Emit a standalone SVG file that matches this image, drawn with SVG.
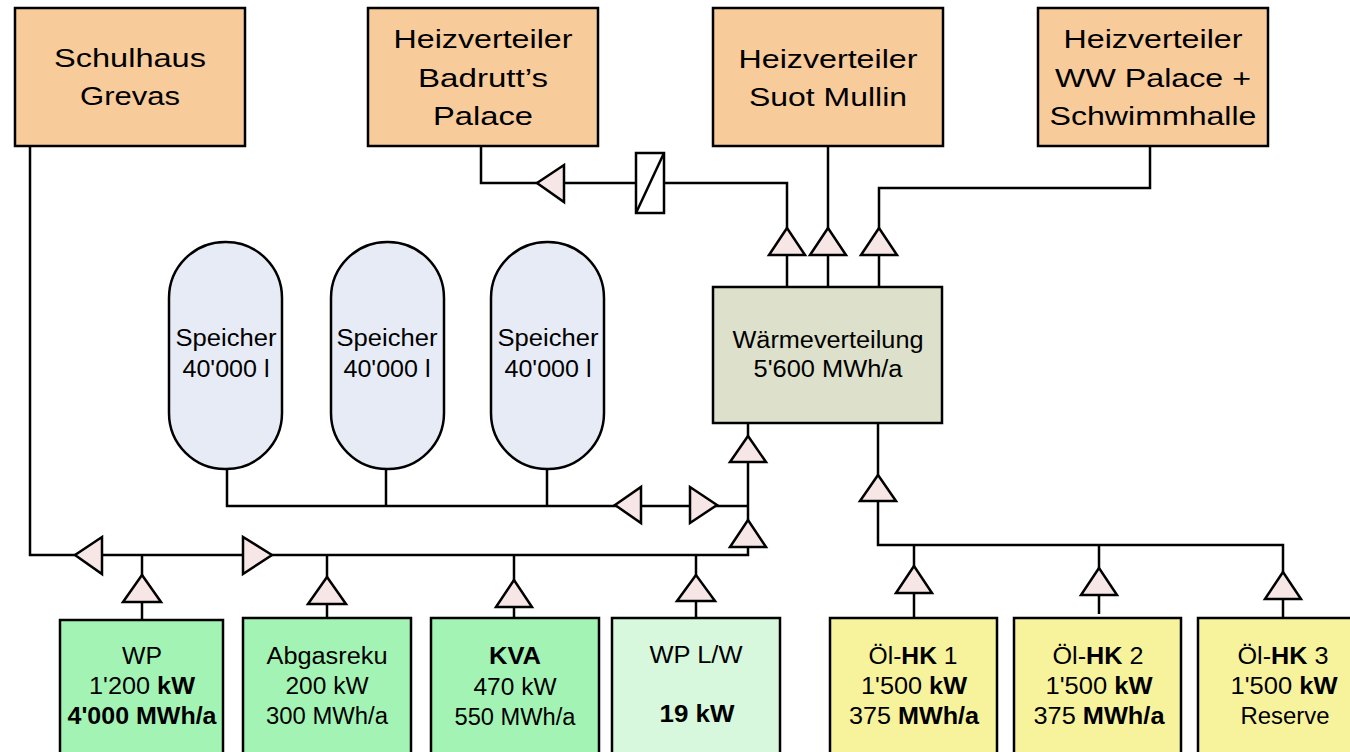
<svg xmlns="http://www.w3.org/2000/svg" width="1350" height="752" viewBox="0 0 1350 752">
<style>
.bx{stroke:#000;stroke-width:2.5}
.top{fill:#f8cb9b}
.grn{fill:#a3f4b4}
.lgr{fill:#d7f8dd}
.yel{fill:#f7f39c}
.tank{fill:#e6ebf6;stroke:#000;stroke-width:2.5}
.wv{fill:#dde0cb}
.pipe{fill:none;stroke:#000;stroke-width:2.5}
.tri{fill:#f7e6e6;stroke:#000;stroke-width:2.5;stroke-linejoin:miter}
text{font-family:"Liberation Sans",Arial,sans-serif;fill:#000;text-anchor:middle}
.ft{font-size:25px}
.fm{font-size:23px}
.fs{font-size:23px}
.b{font-weight:bold}
</style>

<g id="connectors">
<path class="pipe" d="M30,146 V555 H748 V423"/>
<path class="pipe" d="M227,469 V506 H748"/>
<path class="pipe" d="M386,469 V506"/>
<path class="pipe" d="M547,469 V506"/>
<path class="pipe" d="M481,146 V183 H787 V287"/>
<path class="pipe" d="M828,146 V287"/>
<path class="pipe" d="M1150,146 V188 H879 V287"/>
<path class="pipe" d="M878,423 V545 H1283 V618"/>
<path class="pipe" d="M914,545 V618"/>
<path class="pipe" d="M1099,545 V614"/>
<path class="pipe" d="M142,555 V620"/>
<path class="pipe" d="M327,555 V618"/>
<path class="pipe" d="M514,555 V618"/>
<path class="pipe" d="M696,555 V618"/>
<g id="valve">
<rect x="636" y="153" width="28" height="60" fill="#fff" stroke="#000" stroke-width="2.5"/>
<line x1="636" y1="213" x2="664" y2="153" stroke="#000" stroke-width="2.5"/>
</g>
<polygon class="tri" points="787,228 769,255 805,255"/>
<polygon class="tri" points="828,228 810,255 846,255"/>
<polygon class="tri" points="879,228 861,255 897,255"/>
<polygon class="tri" points="748,436 730,462 766,462"/>
<polygon class="tri" points="748,520 730,547 766,547"/>
<polygon class="tri" points="878,475 860,501 896,501"/>
<polygon class="tri" points="914,566 896,593 932,593"/>
<polygon class="tri" points="1099,568 1081,595 1117,595"/>
<polygon class="tri" points="1283,572 1265,599 1301,599"/>
<polygon class="tri" points="142,575 123,602 161,602"/>
<polygon class="tri" points="327,577 308,604 346,604"/>
<polygon class="tri" points="514,580 496,607 532,607"/>
<polygon class="tri" points="696,575 677,601 715,601"/>
<polygon class="tri" points="537,183 564,165 564,202"/>
<polygon class="tri" points="615,505 641,487 641,523"/>
<polygon class="tri" points="75,555 102,537 102,574"/>
<polygon class="tri" points="717,505 690,487 690,523"/>
<polygon class="tri" points="272,555 243,537 243,574"/>
</g>

<g id="schulhaus">
<rect class="bx top" x="15" y="8" width="230" height="138"/>
<text class="ft" x="130" y="67" textLength="152" lengthAdjust="spacingAndGlyphs">Schulhaus</text>
<text class="ft" x="130" y="105" textLength="100" lengthAdjust="spacingAndGlyphs">Grevas</text>
</g>
<g id="badrutt">
<rect class="bx top" x="368" y="8" width="230" height="138"/>
<text class="ft" x="483" y="48" textLength="179" lengthAdjust="spacingAndGlyphs">Heizverteiler</text>
<text class="ft" x="483" y="87" textLength="130" lengthAdjust="spacingAndGlyphs">Badrutt’s</text>
<text class="ft" x="483" y="125" textLength="100" lengthAdjust="spacingAndGlyphs">Palace</text>
</g>
<g id="suot">
<rect class="bx top" x="713" y="8" width="230" height="138"/>
<text class="ft" x="828" y="68" textLength="179" lengthAdjust="spacingAndGlyphs">Heizverteiler</text>
<text class="ft" x="828" y="106" textLength="158" lengthAdjust="spacingAndGlyphs">Suot Mullin</text>
</g>
<g id="wwpalace">
<rect class="bx top" x="1038" y="8" width="230" height="138"/>
<text class="ft" x="1153" y="48" textLength="179" lengthAdjust="spacingAndGlyphs">Heizverteiler</text>
<text class="ft" x="1153" y="87" textLength="196" lengthAdjust="spacingAndGlyphs">WW Palace +</text>
<text class="ft" x="1153" y="125" textLength="207" lengthAdjust="spacingAndGlyphs">Schwimmhalle</text>
</g>

<g id="speicher1">
<rect class="tank" x="169" y="242" width="113" height="227" rx="56" ry="56"/>
<text class="fs" x="226" y="346" textLength="101" lengthAdjust="spacingAndGlyphs">Speicher</text>
<text class="fs" x="226" y="377" textLength="87" lengthAdjust="spacingAndGlyphs">40'000 l</text>
</g>
<g id="speicher2">
<rect class="tank" x="331" y="242" width="113" height="227" rx="56" ry="56"/>
<text class="fs" x="387" y="346" textLength="101" lengthAdjust="spacingAndGlyphs">Speicher</text>
<text class="fs" x="387" y="377" textLength="87" lengthAdjust="spacingAndGlyphs">40'000 l</text>
</g>
<g id="speicher3">
<rect class="tank" x="491" y="242" width="113" height="227" rx="56" ry="56"/>
<text class="fs" x="548" y="346" textLength="101" lengthAdjust="spacingAndGlyphs">Speicher</text>
<text class="fs" x="548" y="377" textLength="87" lengthAdjust="spacingAndGlyphs">40'000 l</text>
</g>

<g id="waermeverteilung">
<rect class="bx wv" x="713" y="287" width="229" height="136"/>
<text class="fm" x="828" y="348" textLength="191" lengthAdjust="spacingAndGlyphs">Wärmeverteilung</text>
<text class="fm" x="828" y="377" textLength="149" lengthAdjust="spacingAndGlyphs">5'600 MWh/a</text>
</g>

<g id="wp">
<rect class="bx grn" x="60" y="620" width="163" height="145"/>
<text class="fm" x="142" y="664" textLength="40" lengthAdjust="spacingAndGlyphs">WP</text>
<text class="fm" x="142" y="694" textLength="106" lengthAdjust="spacingAndGlyphs">1'200 <tspan class="b">kW</tspan></text>
<text class="fm b" x="142" y="724" textLength="149" lengthAdjust="spacingAndGlyphs">4'000 MWh/a</text>
</g>
<g id="abgasreku">
<rect class="bx grn" x="243" y="618" width="168" height="147"/>
<text class="fm" x="327" y="664" textLength="121" lengthAdjust="spacingAndGlyphs">Abgasreku</text>
<text class="fm" x="327" y="694" textLength="83" lengthAdjust="spacingAndGlyphs">200 kW</text>
<text class="fm" x="327" y="724" textLength="122" lengthAdjust="spacingAndGlyphs">300 MWh/a</text>
</g>
<g id="kva">
<rect class="bx grn" x="431" y="618" width="168" height="147"/>
<text class="fm b" x="515" y="664" textLength="52" lengthAdjust="spacingAndGlyphs">KVA</text>
<text class="fm" x="515" y="695" textLength="83" lengthAdjust="spacingAndGlyphs">470 kW</text>
<text class="fm" x="515" y="725" textLength="121" lengthAdjust="spacingAndGlyphs">550 MWh/a</text>
</g>
<g id="wplw">
<rect class="bx lgr" x="612" y="618" width="168" height="147"/>
<text class="fm" x="696" y="663" textLength="93" lengthAdjust="spacingAndGlyphs">WP L/W</text>
<text class="fm b" x="697" y="722" textLength="75" lengthAdjust="spacingAndGlyphs">19 kW</text>
</g>
<g id="oelhk1">
<rect class="bx yel" x="830" y="618" width="167" height="147"/>
<text class="fm" x="913" y="664" textLength="89" lengthAdjust="spacingAndGlyphs">Öl-<tspan class="b">HK</tspan> 1</text>
<text class="fm" x="914" y="694" textLength="106" lengthAdjust="spacingAndGlyphs">1'500 <tspan class="b">kW</tspan></text>
<text class="fm" x="914" y="724" textLength="130" lengthAdjust="spacingAndGlyphs">375 <tspan class="b">MWh/a</tspan></text>
</g>
<g id="oelhk2">
<rect class="bx yel" x="1014" y="618" width="167" height="147"/>
<text class="fm" x="1098" y="664" textLength="91" lengthAdjust="spacingAndGlyphs">Öl-<tspan class="b">HK</tspan> 2</text>
<text class="fm" x="1099" y="694" textLength="107" lengthAdjust="spacingAndGlyphs">1'500 <tspan class="b">kW</tspan></text>
<text class="fm" x="1099" y="724" textLength="131" lengthAdjust="spacingAndGlyphs">375 <tspan class="b">MWh/a</tspan></text>
</g>
<g id="oelhk3">
<rect class="bx yel" x="1198" y="618" width="167" height="147"/>
<text class="fm" x="1283" y="664" textLength="91" lengthAdjust="spacingAndGlyphs">Öl-<tspan class="b">HK</tspan> 3</text>
<text class="fm" x="1284" y="694" textLength="107" lengthAdjust="spacingAndGlyphs">1'500 <tspan class="b">kW</tspan></text>
<text class="fm" x="1285" y="724" textLength="89" lengthAdjust="spacingAndGlyphs">Reserve</text>
</g>
</svg>
